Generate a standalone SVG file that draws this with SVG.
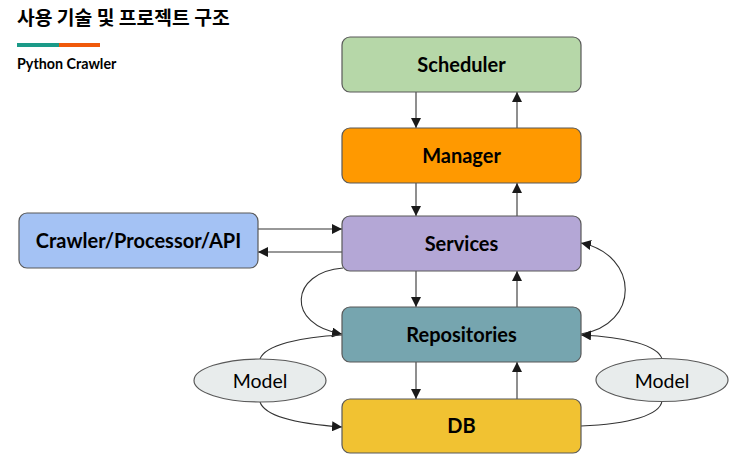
<svg xmlns="http://www.w3.org/2000/svg" width="738" height="469" viewBox="0 0 738 469">
<defs>
<marker id="ah" viewBox="0 0 10 10" refX="10" refY="5" markerWidth="10" markerHeight="10" markerUnits="userSpaceOnUse" orient="auto">
<path d="M0,0 L10,5 L0,10 Z" fill="#1a1a1a"/>
</marker>
<style>
.box{stroke:#595959;stroke-width:1.2}
.lbl{font-family:Lato,"Open Sans","Liberation Sans",sans-serif;font-weight:bold;font-size:20px;fill:#000;text-anchor:middle;dominant-baseline:central}
.ml{font-family:Lato,"Open Sans","Liberation Sans",sans-serif;font-size:19.5px;fill:#000;text-anchor:middle;dominant-baseline:central}
.cn{fill:none;stroke:#333;stroke-width:1.1}
.ar{marker-end:url(#ah)}
</style>
</defs>
<rect width="738" height="469" fill="#fff"/>
<text x="17" y="25" font-family="'Noto Sans CJK KR',sans-serif" font-weight="bold" font-size="19.3" fill="#000">사용 기술 및 프로젝트 구조</text>
<rect x="17" y="43" width="42" height="4" fill="#1b9a88"/>
<rect x="59" y="43" width="41" height="4" fill="#f0590a"/>
<text x="17" y="69" font-family="Lato,'Liberation Sans',sans-serif" font-weight="bold" font-size="14.3" fill="#000">Python Crawler</text>

<g id="connectors">
<line class="cn ar" x1="416" y1="92" x2="416" y2="128"/>
<line class="cn ar" x1="517" y1="128" x2="517" y2="92"/>
<line class="cn ar" x1="416" y1="183" x2="416" y2="216"/>
<line class="cn ar" x1="517" y1="216" x2="517" y2="183"/>
<line class="cn ar" x1="416" y1="271" x2="416" y2="307"/>
<line class="cn ar" x1="517" y1="307" x2="517" y2="271"/>
<line class="cn ar" x1="416" y1="362" x2="416" y2="399"/>
<line class="cn ar" x1="517" y1="399" x2="517" y2="362"/>
<line class="cn ar" x1="258" y1="229" x2="342" y2="229"/>
<line class="cn ar" x1="342" y1="252" x2="258" y2="252"/>
<path class="cn ar" d="M343,268 C290,272 285,325 342,334"/>
<path class="cn ar" d="M581,334 C640,325 640,255 581,243"/>
<path class="cn" d="M342,335 C300,337 265,345 260,359"/>
<path class="cn ar" d="M260,402 C265,417 300,424 342,427"/>
<path class="cn" d="M581,426 C630,424 660,415 662,401"/>
<path class="cn ar" d="M662,359 C658,345 625,337 581,335"/>
</g>

<g id="scheduler"><rect class="box" x="342" y="37" width="239" height="55" rx="8" fill="#b6d7a8"/><text class="lbl" x="461.5" y="63.5">Scheduler</text></g>
<g id="manager"><rect class="box" x="342" y="128" width="239" height="55" rx="8" fill="#ff9900"/><text class="lbl" x="461.5" y="154.5">Manager</text></g>
<g id="services"><rect class="box" x="342" y="216" width="239" height="55" rx="8" fill="#b4a7d6"/><text class="lbl" x="461.5" y="242.5">Services</text></g>
<g id="repositories"><rect class="box" x="342" y="307" width="239" height="55" rx="8" fill="#76a5af"/><text class="lbl" x="461.5" y="333.5">Repositories</text></g>
<g id="db"><rect class="box" x="342" y="399" width="239" height="54" rx="8" fill="#f1c232"/><text class="lbl" x="461.5" y="425">DB</text></g>
<g id="crawler"><rect class="box" x="19" y="213" width="239" height="55" rx="8" fill="#a4c2f4"/><text class="lbl" x="138.5" y="239.5">Crawler/Processor/API</text></g>
<g id="model-left"><ellipse class="box" cx="260" cy="380.5" rx="66" ry="21.5" fill="#e8ecec"/><text class="ml" x="260" y="380">Model</text></g>
<g id="model-right"><ellipse class="box" cx="662" cy="380" rx="66" ry="21.5" fill="#e8ecec"/><text class="ml" x="662" y="380">Model</text></g>
</svg>
